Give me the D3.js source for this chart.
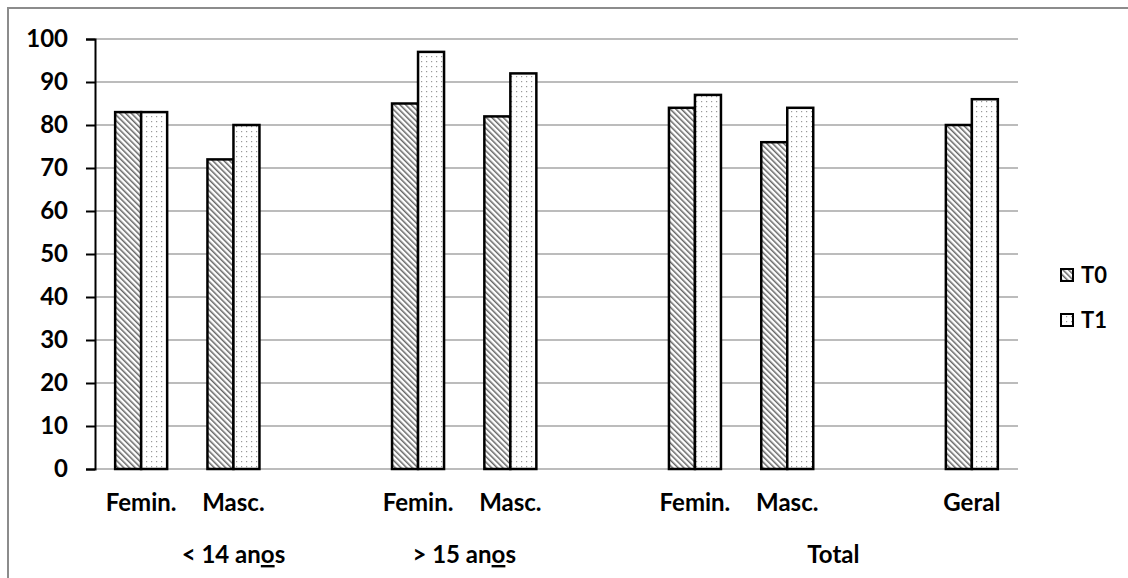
<!DOCTYPE html>
<html>
<head>
<meta charset="utf-8">
<script src="https://cdn.jsdelivr.net/npm/d3@7"></script>
<style>
  body { margin: 0; background: #fff; }
  svg { display: block; font-family: Lato, "Liberation Sans", sans-serif; font-weight: bold; }
</style>
</head>
<body>
<svg id="chart" width="1128" height="578"></svg>
<script>
// data
const categories = ["Femin.", "Masc.", "", "Femin.", "Masc.", "", "Femin.", "Masc.", "", "Geral"];
const t0 = [83, 72, null, 85, 82, null, 84, 76, null, 80];
const t1 = [83, 80, null, 97, 92, null, 87, 84, null, 86];
const seriesNames = ["T0", "T1"];
const groupLabels = ["< 14 anos", "> 15 anos", "Total"];
const groupSpans = [[0, 2], [2, 5], [6, 9]];
const yTicks = [0, 10, 20, 30, 40, 50, 60, 70, 80, 90, 100];

const svg = d3.select("#chart");
const width = +svg.attr("width");
const height = +svg.attr("height");

const plotLeft = 95, plotRight = 1018, plotTop = 39, plotBottom = 469;

// patterns
const defs = svg.append("defs");
const hatch = defs.append("pattern")
  .attr("id", "hatch")
  .attr("patternUnits", "userSpaceOnUse")
  .attr("width", 4)
  .attr("height", 4)
  .attr("patternTransform", "rotate(-45)");
hatch.append("rect").attr("width", 4).attr("height", 4).attr("fill", "#fff");
hatch.append("line")
  .attr("x1", 0).attr("y1", 0).attr("x2", 0).attr("y2", 4)
  .attr("stroke", "#666").attr("stroke-width", 3);

const dots = defs.append("pattern")
  .attr("id", "dots")
  .attr("patternUnits", "userSpaceOnUse")
  .attr("width", 5)
  .attr("height", 5);
dots.append("rect").attr("width", 5).attr("height", 5).attr("fill", "#fff");
dots.append("rect").attr("x", 1).attr("y", 1).attr("width", 1.2).attr("height", 1.2).attr("fill", "#999");

const fills = ["url(#hatch)", "url(#dots)"];

// outer frame
svg.append("rect")
  .attr("x", 8).attr("y", 8)
  .attr("width", width + 20).attr("height", height + 20)
  .attr("fill", "none")
  .attr("stroke", "#8c8c8c")
  .attr("stroke-width", 2);

const keys = categories.map((c, i) => "c" + i);
const x = d3.scaleBand().domain(keys).range([plotLeft, plotRight]).padding(0);
const y = d3.scaleLinear().domain([0, 100]).range([plotBottom, plotTop]);
const barW = 26;

// gridlines
svg.append("g")
  .selectAll("line")
  .data(yTicks)
  .join("line")
  .attr("x1", plotLeft).attr("x2", plotRight)
  .attr("y1", d => y(d)).attr("y2", d => y(d))
  .attr("stroke", "#a6a6a6")
  .attr("stroke-width", 1.5);

// y axis
const yAxis = svg.append("g")
  .attr("transform", `translate(${plotLeft},0)`)
  .call(d3.axisLeft(y).tickValues(yTicks).tickSize(9).tickPadding(18));
yAxis.select(".domain").attr("stroke", "#000").attr("stroke-width", 2);
yAxis.selectAll(".tick line").attr("stroke", "#000").attr("stroke-width", 2);
yAxis.selectAll(".tick text")
  .attr("font-family", "Lato, sans-serif")
  .attr("font-weight", "bold")
  .attr("font-size", 24)
  .attr("fill", "#000");

// bars
[t0, t1].forEach((vals, s) => {
  svg.append("g")
    .selectAll("rect")
    .data(vals.map((v, i) => ({ v, k: keys[i] })).filter(d => d.v !== null))
    .join("rect")
    .attr("x", d => x(d.k) + x.bandwidth() / 2 - barW + s * barW)
    .attr("y", d => y(d.v))
    .attr("width", barW)
    .attr("height", d => y(0) - y(d.v))
    .attr("fill", fills[s])
    .attr("stroke", "#000")
    .attr("stroke-width", 2.5);
});

// category labels
svg.append("g")
  .selectAll("text")
  .data(categories.map((c, i) => ({ c, k: keys[i] })))
  .join("text")
  .attr("x", d => x(d.k) + x.bandwidth() / 2)
  .attr("y", 511)
  .attr("text-anchor", "middle")
  .attr("font-size", 24)
  .attr("fill", "#000")
  .text(d => d.c);

// group labels
groupLabels.forEach((g, i) => {
  const [a, b] = groupSpans[i];
  const cx = (x(keys[a]) + x(keys[b]) + x.bandwidth()) / 2;
  const t = svg.append("text")
    .attr("x", cx)
    .attr("y", 563)
    .attr("text-anchor", "middle")
    .attr("font-size", 24)
    .attr("fill", "#000");
  const m = g.match(/^(.*an)(o)(s)$/);
  if (m) {
    t.append("tspan").text(m[1]);
    t.append("tspan")
      .style("text-decoration", "underline")
      .style("text-decoration-thickness", "3px")
      .style("text-underline-offset", "4px")
      .text(m[2]);
    t.append("tspan").text(m[3]);
  } else {
    t.text(g);
  }
});

// legend
const legend = svg.append("g");
seriesNames.forEach((name, i) => {
  const ly = 275 + i * 45;
  legend.append("rect")
    .attr("x", 1061).attr("y", ly - 6)
    .attr("width", 12).attr("height", 12)
    .attr("fill", fills[i])
    .attr("stroke", "#000")
    .attr("stroke-width", 2);
  legend.append("text")
    .attr("x", 1081).attr("y", ly)
    .attr("dy", "0.35em")
    .attr("font-size", 22)
    .attr("fill", "#000")
    .text(name);
});
</script>
</body>
</html>
